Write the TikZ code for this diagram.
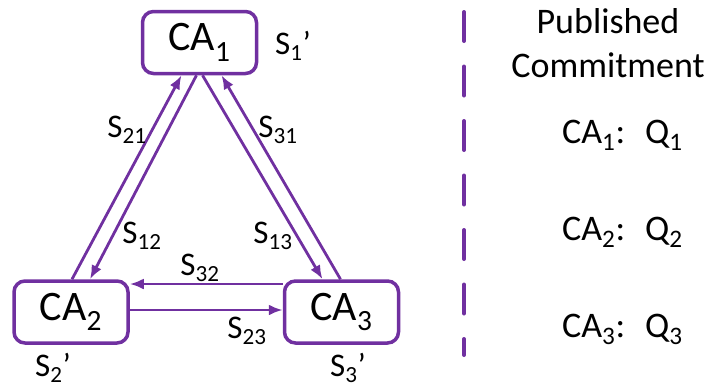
\documentclass[tikz,border=0pt]{standalone}
\usepackage{fontspec}
\setmainfont{Carlito}
\usetikzlibrary{arrows.meta}
\definecolor{pur}{HTML}{7030A0}
\tikzset{
 cabox/.style={draw=pur, line width=3.5pt, rounded corners=11pt, fill=white, minimum width=114pt, minimum height=62pt, inner sep=0pt, font=\fontsize{42}{48}\selectfont},
 conn/.style={draw=pur, line width=2.8pt, -{Latex[length=14pt,width=11pt]}},
 lab/.style={inner sep=0pt, font=\fontsize{33}{38}\selectfont},
 rtext/.style={inner sep=0pt, font=\fontsize{36}{42}\selectfont},
 divider/.style={draw=pur, line width=4pt, line cap=round, dash pattern=on 29pt off 25.5pt},
}
\begin{document}
\begin{tikzpicture}[x=1pt,y=-1pt]
\useasboundingbox (0,0) rectangle (707,389);
\node[cabox] (ca1) at (199.5,42.5) {CA\textsubscript{1}};
\node[cabox] (ca2) at (71,312) {CA\textsubscript{2}};
\node[cabox] (ca3) at (341.5,312) {CA\textsubscript{3}};
\draw[conn] ([xshift=1pt]ca2.north) -- ([xshift=-18pt]ca1.south);
\draw[conn] ([xshift=-3pt]ca1.south) -- ([xshift=19pt]ca2.north);
\draw[conn] ([xshift=3pt]ca1.south) -- ([xshift=-19pt]ca3.north);
\draw[conn] ([xshift=-1pt]ca3.north) -- ([xshift=22pt]ca1.south);
\draw[conn] ([yshift=28pt]ca3.west) -- ([yshift=28pt]ca2.east);
\draw[conn] ([yshift=2pt]ca2.east) -- ([yshift=2pt]ca3.west);
\node[lab] (s21) at (127,130) {S\textsubscript{21}};
\node[lab] (s31) at (278,130) {S\textsubscript{31}};
\node[lab] (s12) at (142,236) {S\textsubscript{12}};
\node[lab] (s13) at (273,236) {S\textsubscript{13}};
\node[lab] (s32) at (200,268) {S\textsubscript{32}};
\node[lab] (s23) at (247,331) {S\textsubscript{23}};
\node[lab, anchor=west] (s1p) at (275,46) {S\textsubscript{1}’};
\node[lab] (s2p) at (53,368) {S\textsubscript{2}’};
\node[lab] (s3p) at (348,368) {S\textsubscript{3}’};
\coordinate (dtop) at (464,12);
\coordinate (dbot) at (464,355);
\draw[divider] (dtop) -- (dbot);
\node[rtext, anchor=base] (pub) at (608,33) {Published};
\node[rtext, anchor=base] (com) at (608,77) {Commitment};
\node[rtext, anchor=base west] (q1) at (562,143) {CA\textsubscript{1}:\hspace{20pt}Q\textsubscript{1}};
\node[rtext, anchor=base west] (q2) at (562,240) {CA\textsubscript{2}:\hspace{20pt}Q\textsubscript{2}};
\node[rtext, anchor=base west] (q3) at (562,337) {CA\textsubscript{3}:\hspace{20pt}Q\textsubscript{3}};
\end{tikzpicture}
\end{document}
